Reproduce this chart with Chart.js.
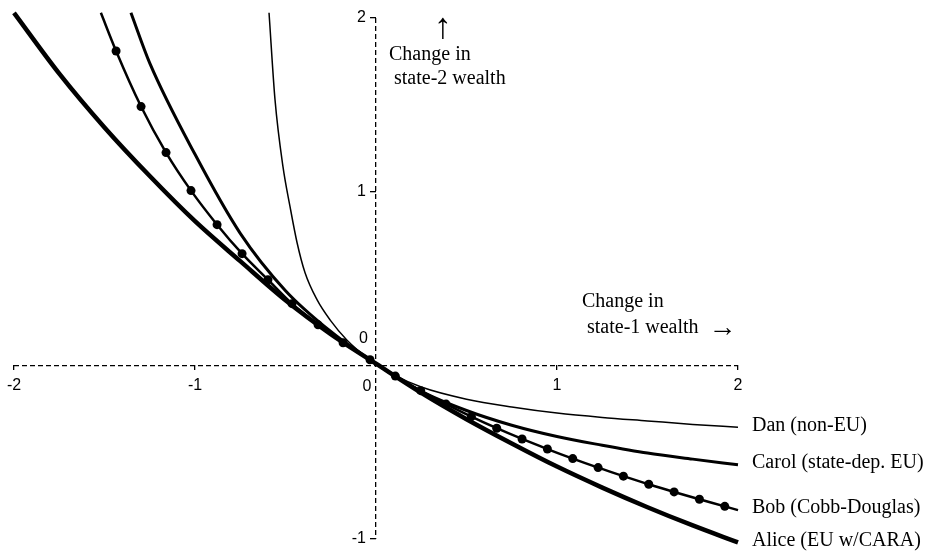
<!DOCTYPE html>
<html>
<head>
<meta charset="utf-8">
<title>Indifference curves</title>
<script src="https://cdn.jsdelivr.net/npm/chart.js@4.4.0/dist/chart.umd.min.js"></script>
<style>
  html, body { margin: 0; padding: 0; background: #fff; }
  canvas { display: block; }
</style>
</head>
<body>
<canvas id="curveChart" width="937" height="558"></canvas>
<script>
'use strict';

/**
 * data
 */

const xTicks = [-2, -1, 0, 1, 2];
const yTicks = [-1, 0, 1, 2];

const seriesNames = ["Dan (non-EU)", "Carol (state-dep. EU)", "Bob (Cobb-Douglas)", "Alice (EU w/CARA)"];

// Dan (non-EU)
const danX = [-0.591, -0.558, -0.514, -0.475, -0.436, -0.392, -0.326, -0.254, -0.16, -0.033, 0.1, 0.25, 0.5, 0.75, 1, 1.25, 1.5, 1.75, 2];
const danY = [2.03, 1.53, 1.144, 0.914, 0.706, 0.533, 0.378, 0.262, 0.145, 0.032, -0.055, -0.125, -0.195, -0.24, -0.275, -0.3, -0.32, -0.34, -0.357];

// Carol (state-dep. EU)
const carolX = [-1.354, -1.25, -1, -0.75, -0.5, -0.25, 0, 0.25, 0.5, 0.75, 1, 1.25, 1.5, 1.75, 2];
const carolY = [2.03, 1.74, 1.215, 0.76, 0.43, 0.195, 0.009, -0.15, -0.26, -0.345, -0.41, -0.46, -0.505, -0.54, -0.573];

// Bob (Cobb-Douglas) - first and last entries are the line ends, the rest are the dots
const bobX = [-1.52, -1.436, -1.298, -1.16, -1.022, -0.878, -0.74, -0.597, -0.464, -0.32, -0.182, -0.033,
  0.107, 0.247, 0.387, 0.527, 0.667, 0.807, 0.947, 1.087, 1.227, 1.367, 1.507, 1.647, 1.787, 1.927, 2];
const bobY = [2.03, 1.81, 1.49, 1.225, 1.006, 0.81, 0.643, 0.493, 0.355, 0.233, 0.13, 0.032,
  -0.062, -0.146, -0.223, -0.295, -0.362, -0.424, -0.482, -0.537, -0.589, -0.638, -0.685, -0.729, -0.771, -0.812, -0.834];

// Alice (EU w/CARA)
const aliceX = [-2, -1.75, -1.5, -1.25, -1, -0.75, -0.5, -0.25, 0, 0.25, 0.5, 0.75, 1, 1.25, 1.5, 1.75, 2];
const aliceY = [2.03, 1.68, 1.37, 1.09, 0.83, 0.6, 0.375, 0.18, 0.01, -0.158, -0.31, -0.45, -0.583, -0.704, -0.817, -0.922, -1.02];


/**
 * helpers
 */

const toPoints = function (xs, ys) {
  return xs.map(function (x, i) { return { x: x, y: ys[i] }; });
};

const sansFont = '"Liberation Sans", Arial, sans-serif';
const serifFont = '"Liberation Serif", "Times New Roman", serif';
const tickFont = { family: sansFont, size: 16 };

// the dashed axis is the zero grid line, the other grid lines stay hidden
const zeroLine = function (c) {
  return c.tick && c.tick.value === 0 ? '#000' : 'rgba(0,0,0,0)';
};
const tickMark = function (c) {
  return c.tick && c.tick.value === 0 ? 'rgba(0,0,0,0)' : '#000';
};


/**
 * labels at the right end of each curve
 */

const endLabels = {
  id: 'endLabels',
  afterDatasetsDraw(chart) {
    const ctx = chart.ctx;
    ctx.save();
    ctx.font = '20px ' + serifFont;
    ctx.fillStyle = '#000';
    ctx.textAlign = 'left';
    ctx.textBaseline = 'middle';
    chart.data.datasets.forEach(function (ds, i) {
      const pts = chart.getDatasetMeta(i).data;
      const last = pts[pts.length - 1];
      ctx.fillText(ds.label, last.x + 14, last.y - 2);
    });
    ctx.restore();
  }
};


/**
 * y tick labels, axis captions and the zero labels
 */

const axisNotes = {
  id: 'axisNotes',
  afterDraw(chart) {
    const ctx = chart.ctx;
    const x = chart.scales.x;
    const y = chart.scales.y;
    const x0 = x.getPixelForValue(0);
    const y0 = y.getPixelForValue(0);
    ctx.save();
    ctx.fillStyle = '#000';

    // y tick labels sit left of the dashed axis
    ctx.font = '16px ' + sansFont;
    ctx.textAlign = 'right';
    ctx.textBaseline = 'middle';
    yTicks.forEach(function (v) {
      if (v === 0) {
        ctx.fillText('0', x0 - 8, y0 - 27);
      } else {
        ctx.fillText(String(v), x0 - 10, y.getPixelForValue(v));
      }
    });
    ctx.textAlign = 'center';
    ctx.textBaseline = 'top';
    ctx.fillText('0', x0 - 9, y0 + 13);

    // captions
    ctx.font = '20px ' + serifFont;
    ctx.textAlign = 'left';
    ctx.textBaseline = 'middle';
    ctx.fillText('Change in', x.getPixelForValue(0.072), y.getPixelForValue(1.79));
    ctx.fillText(' state-2 wealth', x.getPixelForValue(0.072), y.getPixelForValue(1.65));
    ctx.fillText('Change in', x.getPixelForValue(1.138), y.getPixelForValue(0.366));
    const line2 = ' state-1 wealth  ';
    const lx = x.getPixelForValue(1.138);
    const ly = y.getPixelForValue(0.216);
    ctx.fillText(line2, lx, ly);
    const w2 = ctx.measureText(line2).width;
    ctx.font = '28px ' + serifFont;
    ctx.fillText('\u2192', lx + w2, ly + 1);

    ctx.font = '36px ' + serifFont;
    ctx.textAlign = 'center';
    ctx.fillText('\u2191', x.getPixelForValue(0.37), y.getPixelForValue(1.94));
    ctx.restore();
  }
};


/**
 * chart
 */

const ctx = document.getElementById('curveChart').getContext('2d');

const curveChart = new Chart(ctx, {
  type: 'line',
  data: {
    datasets: [
      {
        label: seriesNames[0],
        data: toPoints(danX, danY),
        borderColor: '#000',
        borderWidth: 1.5,
        pointRadius: 0
      },
      {
        label: seriesNames[1],
        data: toPoints(carolX, carolY),
        borderColor: '#000',
        borderWidth: 3,
        pointRadius: 0
      },
      {
        label: seriesNames[2],
        data: toPoints(bobX, bobY),
        borderColor: '#000',
        borderWidth: 2.5,
        pointRadius: bobX.map(function (v, i) { return (i === 0 || i === bobX.length - 1) ? 0 : 4.5; }),
        pointBackgroundColor: '#000',
        pointBorderWidth: 0
      },
      {
        label: seriesNames[3],
        data: toPoints(aliceX, aliceY),
        borderColor: '#000',
        borderWidth: 4.5,
        pointRadius: 0
      }
    ]
  },
  options: {
    responsive: false,
    animation: false,
    cubicInterpolationMode: 'monotone',
    clip: 8,
    layout: {
      padding: { left: 14, right: 199, top: 18, bottom: 19 }
    },
    plugins: {
      legend: { display: false },
      tooltip: { enabled: false }
    },
    scales: {
      x: {
        type: 'linear',
        position: { y: 0 },
        min: -2,
        max: 2,
        afterBuildTicks: function (axis) {
          axis.ticks = xTicks.map(function (v) { return { value: v }; });
        },
        grid: {
          display: true,
          drawOnChartArea: true,
          drawTicks: true,
          tickLength: 5,
          lineWidth: 1.3,
          tickWidth: 1.3,
          color: zeroLine,
          tickColor: tickMark
        },
        border: { display: false, dash: [5, 3] },
        ticks: {
          color: '#000',
          font: tickFont,
          padding: 6,
          autoSkip: false,
          maxRotation: 0,
          callback: function (v) { return v === 0 ? '' : v; }
        }
      },
      y: {
        type: 'linear',
        position: { x: 0 },
        min: -1,
        max: 2,
        afterBuildTicks: function (axis) {
          axis.ticks = yTicks.map(function (v) { return { value: v }; });
        },
        grid: {
          display: true,
          drawOnChartArea: true,
          drawTicks: true,
          tickLength: 6,
          lineWidth: 1.3,
          tickWidth: 1.3,
          color: zeroLine,
          tickColor: tickMark
        },
        border: { display: false, dash: [5, 3] },
        ticks: { display: false }
      }
    }
  },
  plugins: [endLabels, axisNotes]
});
</script>
</body>
</html>
